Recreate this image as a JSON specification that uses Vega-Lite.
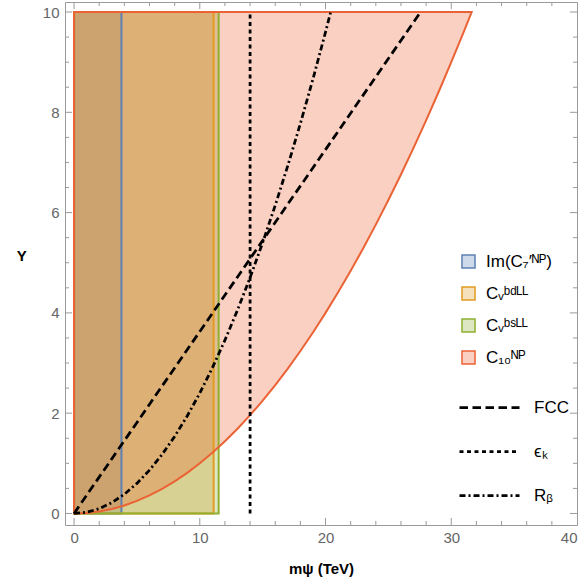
{
  "$schema": "https://vega.github.io/schema/vega-lite/v6.json",
  "width": 512,
  "height": 523,
  "autosize": {"type": "none"},
  "padding": {"left": 65, "top": 2, "right": 5, "bottom": 61},
  "config": {
    "view": {"stroke": "#9a9a9a", "strokeWidth": 1},
    "font": "Liberation Sans",
    "axis": {
      "grid": false,
      "domain": false,
      "ticks": false,
      "labelColor": "#666666",
      "labelFont": "Liberation Sans",
      "labelFontSize": 15,
      "titleFont": "Liberation Sans",
      "titleFontSize": 15,
      "titleFontWeight": "bold",
      "titleColor": "#000000"
    }
  },
  "datasets": {
    "ticks": [
      {"x": 0, "x2": 0, "y": -0.23, "y2": -0.09},
      {"x": 2, "x2": 2, "y": -0.23, "y2": -0.15},
      {"x": 4, "x2": 4, "y": -0.23, "y2": -0.15},
      {"x": 6, "x2": 6, "y": -0.23, "y2": -0.15},
      {"x": 8, "x2": 8, "y": -0.23, "y2": -0.15},
      {"x": 10, "x2": 10, "y": -0.23, "y2": -0.09},
      {"x": 12, "x2": 12, "y": -0.23, "y2": -0.15},
      {"x": 14, "x2": 14, "y": -0.23, "y2": -0.15},
      {"x": 16, "x2": 16, "y": -0.23, "y2": -0.15},
      {"x": 18, "x2": 18, "y": -0.23, "y2": -0.15},
      {"x": 20, "x2": 20, "y": -0.23, "y2": -0.09},
      {"x": 22, "x2": 22, "y": -0.23, "y2": -0.15},
      {"x": 24, "x2": 24, "y": -0.23, "y2": -0.15},
      {"x": 26, "x2": 26, "y": -0.23, "y2": -0.15},
      {"x": 28, "x2": 28, "y": -0.23, "y2": -0.15},
      {"x": 30, "x2": 30, "y": -0.23, "y2": -0.09},
      {"x": 32, "x2": 32, "y": -0.23, "y2": -0.15},
      {"x": 34, "x2": 34, "y": -0.23, "y2": -0.15},
      {"x": 36, "x2": 36, "y": -0.23, "y2": -0.15},
      {"x": 38, "x2": 38, "y": -0.23, "y2": -0.15},
      {"x": 0, "x2": 0, "y": 10.2, "y2": 10.06},
      {"x": 2, "x2": 2, "y": 10.2, "y2": 10.12},
      {"x": 4, "x2": 4, "y": 10.2, "y2": 10.12},
      {"x": 6, "x2": 6, "y": 10.2, "y2": 10.12},
      {"x": 8, "x2": 8, "y": 10.2, "y2": 10.12},
      {"x": 10, "x2": 10, "y": 10.2, "y2": 10.06},
      {"x": 12, "x2": 12, "y": 10.2, "y2": 10.12},
      {"x": 14, "x2": 14, "y": 10.2, "y2": 10.12},
      {"x": 16, "x2": 16, "y": 10.2, "y2": 10.12},
      {"x": 18, "x2": 18, "y": 10.2, "y2": 10.12},
      {"x": 20, "x2": 20, "y": 10.2, "y2": 10.06},
      {"x": 22, "x2": 22, "y": 10.2, "y2": 10.12},
      {"x": 24, "x2": 24, "y": 10.2, "y2": 10.12},
      {"x": 26, "x2": 26, "y": 10.2, "y2": 10.12},
      {"x": 28, "x2": 28, "y": 10.2, "y2": 10.12},
      {"x": 30, "x2": 30, "y": 10.2, "y2": 10.06},
      {"x": 32, "x2": 32, "y": 10.2, "y2": 10.12},
      {"x": 34, "x2": 34, "y": 10.2, "y2": 10.12},
      {"x": 36, "x2": 36, "y": 10.2, "y2": 10.12},
      {"x": 38, "x2": 38, "y": 10.2, "y2": 10.12},
      {"x": -0.72, "x2": -0.16, "y": 0, "y2": 0},
      {"x": -0.72, "x2": -0.4, "y": 0.5, "y2": 0.5},
      {"x": -0.72, "x2": -0.4, "y": 1, "y2": 1},
      {"x": -0.72, "x2": -0.4, "y": 1.5, "y2": 1.5},
      {"x": -0.72, "x2": -0.16, "y": 2, "y2": 2},
      {"x": -0.72, "x2": -0.4, "y": 2.5, "y2": 2.5},
      {"x": -0.72, "x2": -0.4, "y": 3, "y2": 3},
      {"x": -0.72, "x2": -0.4, "y": 3.5, "y2": 3.5},
      {"x": -0.72, "x2": -0.16, "y": 4, "y2": 4},
      {"x": -0.72, "x2": -0.4, "y": 4.5, "y2": 4.5},
      {"x": -0.72, "x2": -0.4, "y": 5, "y2": 5},
      {"x": -0.72, "x2": -0.4, "y": 5.5, "y2": 5.5},
      {"x": -0.72, "x2": -0.16, "y": 6, "y2": 6},
      {"x": -0.72, "x2": -0.4, "y": 6.5, "y2": 6.5},
      {"x": -0.72, "x2": -0.4, "y": 7, "y2": 7},
      {"x": -0.72, "x2": -0.4, "y": 7.5, "y2": 7.5},
      {"x": -0.72, "x2": -0.16, "y": 8, "y2": 8},
      {"x": -0.72, "x2": -0.4, "y": 8.5, "y2": 8.5},
      {"x": -0.72, "x2": -0.4, "y": 9, "y2": 9},
      {"x": -0.72, "x2": -0.4, "y": 9.5, "y2": 9.5},
      {"x": -0.72, "x2": -0.16, "y": 10, "y2": 10},
      {"x": 40, "x2": 39.44, "y": 0, "y2": 0},
      {"x": 40, "x2": 39.68, "y": 0.5, "y2": 0.5},
      {"x": 40, "x2": 39.68, "y": 1, "y2": 1},
      {"x": 40, "x2": 39.68, "y": 1.5, "y2": 1.5},
      {"x": 40, "x2": 39.44, "y": 2, "y2": 2},
      {"x": 40, "x2": 39.68, "y": 2.5, "y2": 2.5},
      {"x": 40, "x2": 39.68, "y": 3, "y2": 3},
      {"x": 40, "x2": 39.68, "y": 3.5, "y2": 3.5},
      {"x": 40, "x2": 39.44, "y": 4, "y2": 4},
      {"x": 40, "x2": 39.68, "y": 4.5, "y2": 4.5},
      {"x": 40, "x2": 39.68, "y": 5, "y2": 5},
      {"x": 40, "x2": 39.68, "y": 5.5, "y2": 5.5},
      {"x": 40, "x2": 39.44, "y": 6, "y2": 6},
      {"x": 40, "x2": 39.68, "y": 6.5, "y2": 6.5},
      {"x": 40, "x2": 39.68, "y": 7, "y2": 7},
      {"x": 40, "x2": 39.68, "y": 7.5, "y2": 7.5},
      {"x": 40, "x2": 39.44, "y": 8, "y2": 8},
      {"x": 40, "x2": 39.68, "y": 8.5, "y2": 8.5},
      {"x": 40, "x2": 39.68, "y": 9, "y2": 9},
      {"x": 40, "x2": 39.68, "y": 9.5, "y2": 9.5},
      {"x": 40, "x2": 39.44, "y": 10, "y2": 10}
    ],
    "rects": [
      {"series": "Im(C₇′ᴺᴾ)", "x": 0, "x2": 3.77, "y": 0, "y2": 10},
      {"series": "Cᵥᵇᵈᴸᴸ", "x": 0, "x2": 11.1, "y": 0, "y2": 10},
      {"series": "Cᵥᵇˢᴸᴸ", "x": 0, "x2": 11.5, "y": 0, "y2": 10}
    ],
    "region": [
      {"series": "C₁₀ᴺᴾ", "x": 0, "y": 0, "y2": 10},
      {"series": "C₁₀ᴺᴾ", "x": 1, "y": 0.01, "y2": 10},
      {"series": "C₁₀ᴺᴾ", "x": 2, "y": 0.04, "y2": 10},
      {"series": "C₁₀ᴺᴾ", "x": 3, "y": 0.09, "y2": 10},
      {"series": "C₁₀ᴺᴾ", "x": 4, "y": 0.16, "y2": 10},
      {"series": "C₁₀ᴺᴾ", "x": 5, "y": 0.25, "y2": 10},
      {"series": "C₁₀ᴺᴾ", "x": 6, "y": 0.36, "y2": 10},
      {"series": "C₁₀ᴺᴾ", "x": 7, "y": 0.49, "y2": 10},
      {"series": "C₁₀ᴺᴾ", "x": 8, "y": 0.64, "y2": 10},
      {"series": "C₁₀ᴺᴾ", "x": 9, "y": 0.81, "y2": 10},
      {"series": "C₁₀ᴺᴾ", "x": 10, "y": 1.0, "y2": 10},
      {"series": "C₁₀ᴺᴾ", "x": 11, "y": 1.21, "y2": 10},
      {"series": "C₁₀ᴺᴾ", "x": 12, "y": 1.44, "y2": 10},
      {"series": "C₁₀ᴺᴾ", "x": 13, "y": 1.69, "y2": 10},
      {"series": "C₁₀ᴺᴾ", "x": 14, "y": 1.96, "y2": 10},
      {"series": "C₁₀ᴺᴾ", "x": 15, "y": 2.25, "y2": 10},
      {"series": "C₁₀ᴺᴾ", "x": 16, "y": 2.56, "y2": 10},
      {"series": "C₁₀ᴺᴾ", "x": 17, "y": 2.89, "y2": 10},
      {"series": "C₁₀ᴺᴾ", "x": 18, "y": 3.24, "y2": 10},
      {"series": "C₁₀ᴺᴾ", "x": 19, "y": 3.61, "y2": 10},
      {"series": "C₁₀ᴺᴾ", "x": 20, "y": 4.0, "y2": 10},
      {"series": "C₁₀ᴺᴾ", "x": 21, "y": 4.41, "y2": 10},
      {"series": "C₁₀ᴺᴾ", "x": 22, "y": 4.84, "y2": 10},
      {"series": "C₁₀ᴺᴾ", "x": 23, "y": 5.29, "y2": 10},
      {"series": "C₁₀ᴺᴾ", "x": 24, "y": 5.76, "y2": 10},
      {"series": "C₁₀ᴺᴾ", "x": 25, "y": 6.25, "y2": 10},
      {"series": "C₁₀ᴺᴾ", "x": 26, "y": 6.76, "y2": 10},
      {"series": "C₁₀ᴺᴾ", "x": 27, "y": 7.29, "y2": 10},
      {"series": "C₁₀ᴺᴾ", "x": 28, "y": 7.84, "y2": 10},
      {"series": "C₁₀ᴺᴾ", "x": 29, "y": 8.41, "y2": 10},
      {"series": "C₁₀ᴺᴾ", "x": 30, "y": 9.0, "y2": 10},
      {"series": "C₁₀ᴺᴾ", "x": 31, "y": 9.61, "y2": 10},
      {"series": "C₁₀ᴺᴾ", "x": 31.62, "y": 10.0, "y2": 10}
    ],
    "lines": [
      {"line": "FCC", "i": 0, "x": 0, "y": 0},
      {"line": "FCC", "i": 1, "x": 27.56, "y": 10},
      {"line": "ϵₖ", "i": 0, "x": 14, "y": 0},
      {"line": "ϵₖ", "i": 1, "x": 14, "y": 10},
      {"line": "Rᵦ", "i": 0, "x": 0, "y": 0},
      {"line": "Rᵦ", "i": 1, "x": 1, "y": 0.024},
      {"line": "Rᵦ", "i": 2, "x": 2, "y": 0.096},
      {"line": "Rᵦ", "i": 3, "x": 3, "y": 0.216},
      {"line": "Rᵦ", "i": 4, "x": 4, "y": 0.384},
      {"line": "Rᵦ", "i": 5, "x": 5, "y": 0.6},
      {"line": "Rᵦ", "i": 6, "x": 6, "y": 0.864},
      {"line": "Rᵦ", "i": 7, "x": 7, "y": 1.176},
      {"line": "Rᵦ", "i": 8, "x": 8, "y": 1.536},
      {"line": "Rᵦ", "i": 9, "x": 9, "y": 1.944},
      {"line": "Rᵦ", "i": 10, "x": 10, "y": 2.4},
      {"line": "Rᵦ", "i": 11, "x": 11, "y": 2.904},
      {"line": "Rᵦ", "i": 12, "x": 12, "y": 3.456},
      {"line": "Rᵦ", "i": 13, "x": 13, "y": 4.056},
      {"line": "Rᵦ", "i": 14, "x": 14, "y": 4.704},
      {"line": "Rᵦ", "i": 15, "x": 15, "y": 5.4},
      {"line": "Rᵦ", "i": 16, "x": 16, "y": 6.144},
      {"line": "Rᵦ", "i": 17, "x": 17, "y": 6.936},
      {"line": "Rᵦ", "i": 18, "x": 18, "y": 7.776},
      {"line": "Rᵦ", "i": 19, "x": 19, "y": 8.664},
      {"line": "Rᵦ", "i": 20, "x": 20, "y": 9.6},
      {"line": "Rᵦ", "i": 21, "x": 20.41, "y": 10.0}
    ]
  },
  "encoding": {
    "x": {
      "field": "x", "type": "quantitative",
      "scale": {"domain": [-0.72, 40], "nice": false, "zero": false},
      "axis": {
        "orient": "bottom",
        "values": [0, 10, 20, 30, 40],
        "format": "d",
        "labelPadding": 5,
        "title": "mψ (TeV)",
        "titlePadding": 16
      }
    },
    "y": {
      "field": "y", "type": "quantitative",
      "scale": {"domain": [-0.23, 10.2], "nice": false, "zero": false},
      "axis": {
        "orient": "left",
        "values": [0, 2, 4, 6, 8, 10],
        "format": "d",
        "labelPadding": 6,
        "title": "Y",
        "titleAngle": 0,
        "titlePadding": 21
      }
    }
  },
  "layer": [
    {
      "data": {"name": "ticks"},
      "mark": {"type": "rule", "color": "#9a9a9a", "strokeWidth": 1},
      "encoding": {
        "x2": {"field": "x2"},
        "y2": {"field": "y2"}
      }
    },
    {
      "data": {"name": "rects"},
      "mark": {"type": "rect", "fillOpacity": 0.3, "strokeWidth": 0},
      "encoding": {
        "x2": {"field": "x2"},
        "y2": {"field": "y2"},
        "fill": {
          "field": "series", "type": "nominal",
          "scale": {
            "domain": ["Im(C₇′ᴺᴾ)", "Cᵥᵇᵈᴸᴸ", "Cᵥᵇˢᴸᴸ", "C₁₀ᴺᴾ"],
            "range": ["#5E81B5", "#E19C24", "#8FB032", "#EB6235"]
          },
          "legend": {
            "orient": "none", "legendX": 395, "legendY": 251, "title": null,
            "symbolType": "square", "symbolSize": 170, "symbolStrokeWidth": 1.5,
            "labelFontSize": 17, "labelFont": "Liberation Sans", "labelColor": "#000000",
            "labelOffset": 9, "rowPadding": 11, "padding": 0,
            "encode": {"symbols": {"update": {"fillOpacity": {"value": 0.3}}}}
          }
        }
      }
    },
    {
      "data": {"name": "region"},
      "mark": {"type": "area", "fillOpacity": 0.3, "strokeWidth": 0, "orient": "vertical"},
      "encoding": {
        "y2": {"field": "y2"},
        "fill": {"field": "series", "type": "nominal"}
      }
    },
    {
      "data": {"name": "rects"},
      "mark": {"type": "rect", "fillOpacity": 0, "strokeWidth": 2},
      "encoding": {
        "x2": {"field": "x2"},
        "y2": {"field": "y2"},
        "stroke": {
          "field": "series", "type": "nominal",
          "scale": {
            "domain": ["Im(C₇′ᴺᴾ)", "Cᵥᵇᵈᴸᴸ", "Cᵥᵇˢᴸᴸ", "C₁₀ᴺᴾ"],
            "range": ["#5E81B5", "#E19C24", "#8FB032", "#EB6235"]
          },
          "legend": {
            "orient": "none", "legendX": 395, "legendY": 251, "title": null,
            "symbolType": "square", "symbolSize": 170, "symbolStrokeWidth": 1.5,
            "labelFontSize": 17, "labelFont": "Liberation Sans", "labelColor": "#000000",
            "labelOffset": 9, "rowPadding": 11, "padding": 0,
            "encode": {"symbols": {"update": {"fillOpacity": {"value": 0.3}}}}
          }
        }
      }
    },
    {
      "data": {"name": "region"},
      "mark": {"type": "area", "fillOpacity": 0, "strokeWidth": 2, "orient": "vertical"},
      "encoding": {
        "y2": {"field": "y2"},
        "stroke": {"field": "series", "type": "nominal"}
      }
    },
    {
      "data": {"name": "lines"},
      "mark": {"type": "line", "strokeWidth": 2.75, "color": "#000000", "strokeCap": "butt"},
      "encoding": {
        "order": {"field": "i"},
        "strokeDash": {
          "field": "line", "type": "nominal",
          "scale": {"domain": ["FCC", "ϵₖ", "Rᵦ"], "range": [[8.5, 4.5], [4, 3.5], [6, 3, 2, 3]]},
          "legend": {
            "orient": "none", "legendX": 413, "legendY": 394, "title": null,
            "symbolType": "M-3,0H3", "symbolSize": 400, "symbolStrokeWidth": 2.75,
            "symbolStrokeColor": "#000000",
            "labelFontSize": 17, "labelFont": "Liberation Sans", "labelColor": "#000000",
            "labelOffset": 33, "rowPadding": 24, "padding": 0
          }
        }
      }
    }
  ]
}
